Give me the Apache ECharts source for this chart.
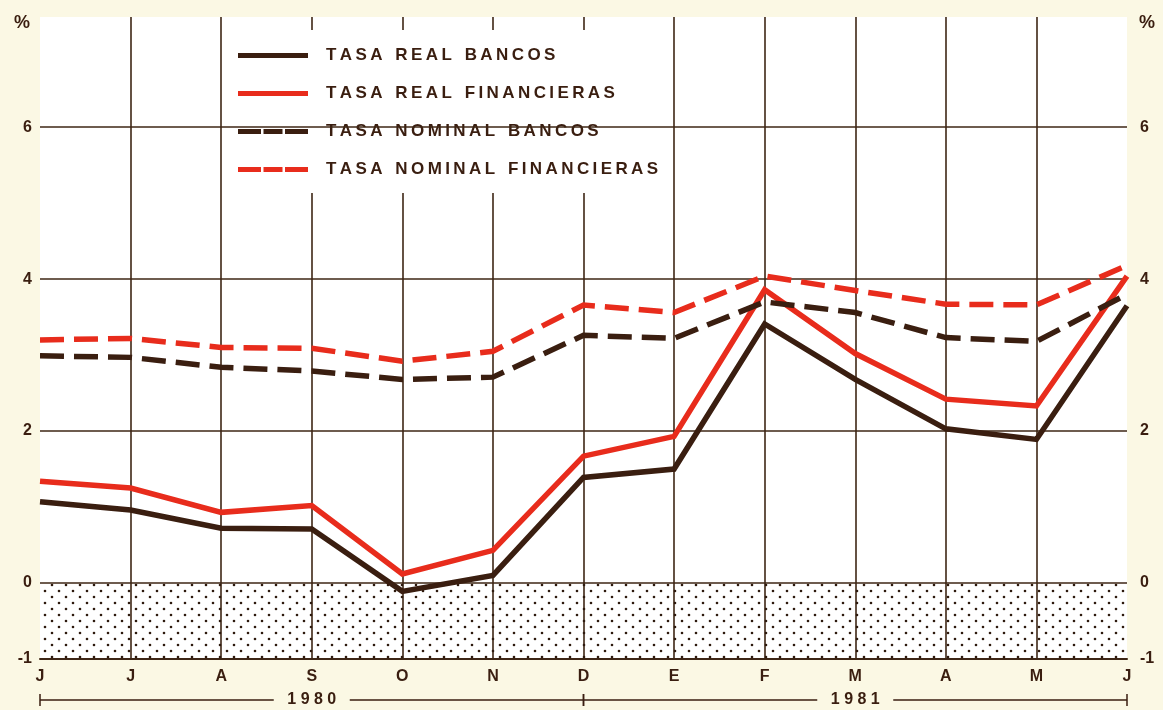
<!DOCTYPE html>
<html lang="es">
<head>
<meta charset="UTF-8">
<title>Tasas de interés</title>
<script src="https://cdn.jsdelivr.net/npm/echarts@6/dist/echarts.min.js"></script>
<style>
  html, body { margin: 0; padding: 0; background: #fbf8e4; }
  #chart { width: 1163px; height: 710px; }
</style>
</head>
<body>
<div id="chart"></div>
<script>
// meses jun-1980 .. jun-1981
var meses = ['J', 'J', 'A', 'S', 'O', 'N', 'D', 'E', 'F', 'M', 'A', 'M', 'J'];
var realBancos = [1.07, 0.96, 0.72, 0.71, -0.11, 0.10, 1.39, 1.50, 3.41, 2.68, 2.03, 1.89, 3.65];
var realFinancieras = [1.34, 1.25, 0.93, 1.02, 0.12, 0.43, 1.67, 1.93, 3.86, 3.02, 2.42, 2.33, 4.04];
var nominalBancos = [2.99, 2.97, 2.84, 2.79, 2.68, 2.71, 3.26, 3.22, 3.70, 3.56, 3.23, 3.18, 3.80];
var nominalFinancieras = [3.20, 3.22, 3.10, 3.09, 2.92, 3.05, 3.66, 3.56, 4.04, 3.85, 3.67, 3.66, 4.18];
var lineasY = [0, 2, 4, 6];
var etiquetasY = [-1, 0, 2, 4, 6];
var anios = [{ texto: '1980', desde: 0, hasta: 6 }, { texto: '1981', desde: 6, hasta: 12 }];

var marron = '#3a1e10';
var rojo = '#e82c1c';
var rejilla = '#3e2615';
var fuente = 'Liberation Sans';
var iconoTrazos = 'path://M0,0h23v5h-23z M25.5,0h19v5h-19z M47,0h23v5h-23z';

// letras separadas como en el original
function espaciar(s) {
    return s.split(' ').map(function (w) { return w.split('').join('\u2009'); }).join('  \u2009');
}

// trama de puntos para la zona negativa (fondo transparente)
var trama = document.createElement('canvas');
trama.width = 14; trama.height = 12;
var ctx = trama.getContext('2d');
ctx.fillStyle = '#2e1a0e';
[[3, 3], [10, 9]].forEach(function (p) {
    ctx.beginPath(); ctx.arc(p[0], p[1], 1.3, 0, Math.PI * 2); ctx.fill();
});

var myChart = echarts.init(document.getElementById('chart'));

function ejeY(pos) {
    return {
        type: 'value',
        position: pos,
        min: -1,
        max: 7.45,
        interval: 1,
        name: '%',
        nameLocation: 'end',
        nameGap: -15,
        nameTextStyle: {
            color: marron, fontFamily: fuente, fontWeight: 'bold', fontSize: 18,
            align: pos === 'left' ? 'right' : 'left',
            padding: pos === 'left' ? [0, 10, 0, 0] : [0, 0, 0, 12]
        },
        axisLine: { show: false },
        axisTick: { show: false },
        splitLine: { show: false },
        axisLabel: {
            margin: pos === 'left' ? 8 : 13,
            color: marron, fontFamily: fuente, fontWeight: 'bold', fontSize: 16,
            formatter: function (v) {
                return etiquetasY.indexOf(v) >= 0 ? String(v) : '';
            }
        }
    };
}

function serie(nombre, datos, color, tipo) {
    return {
        name: nombre,
        type: 'line',
        data: datos,
        symbol: 'none',
        z: 5,
        lineStyle: {
            color: color, width: 5.5,
            type: tipo === 'dashed' ? [24, 10] : 'solid',
            cap: 'butt', join: 'miter'
        },
        itemStyle: { color: color }
    };
}

myChart.setOption({
    backgroundColor: '#fbf8e4',
    animation: false,
    grid: {
        left: 40, right: 36, top: 17, bottom: 51,
        show: true, backgroundColor: '#ffffff', borderWidth: 0
    },
    legend: {
        orient: 'vertical',
        left: 223,
        top: 30,
        data: [
            { name: 'TASA REAL BANCOS', icon: 'rect' },
            { name: 'TASA REAL FINANCIERAS', icon: 'rect' },
            { name: 'TASA NOMINAL BANCOS', icon: iconoTrazos },
            { name: 'TASA NOMINAL FINANCIERAS', icon: iconoTrazos }
        ],
        backgroundColor: '#ffffff',
        padding: [17, 9, 15, 15],
        itemWidth: 70,
        itemHeight: 5,
        itemGap: 21,
        formatter: espaciar,
        textStyle: {
            color: marron, fontFamily: fuente, fontWeight: 'bold', fontSize: 17,
            padding: [0, 0, 0, 13]
        }
    },
    xAxis: {
        type: 'category',
        data: meses,
        boundaryGap: false,
        axisLine: { onZero: false, lineStyle: { color: rejilla, width: 2 } },
        axisTick: { show: false },
        axisLabel: {
            margin: 10, color: marron, fontFamily: fuente, fontWeight: 'bold', fontSize: 16
        },
        splitLine: {
            show: true,
            interval: function (i) { return i > 0 && i < meses.length - 1; },
            lineStyle: { color: rejilla, width: 1.6 }
        }
    },
    yAxis: [ejeY('left'), ejeY('right')],
    series: [
        {
            name: 'rejilla',
            type: 'line',
            data: [],
            z: 1,
            silent: true,
            markArea: {
                silent: true,
                itemStyle: { color: { image: trama, repeat: 'repeat' } },
                data: [[{ yAxis: 0 }, { yAxis: -1 }]]
            },
            markLine: {
                silent: true,
                symbol: 'none',
                label: { show: false },
                lineStyle: { color: rejilla, width: 1.6, type: 'solid' },
                data: lineasY.map(function (v) { return { yAxis: v }; })
            }
        },
        serie('TASA REAL BANCOS', realBancos, marron, 'solid'),
        serie('TASA REAL FINANCIERAS', realFinancieras, rojo, 'solid'),
        serie('TASA NOMINAL BANCOS', nominalBancos, marron, 'dashed'),
        serie('TASA NOMINAL FINANCIERAS', nominalFinancieras, rojo, 'dashed')
    ]
});

// corchetes de los años bajo el eje
var yCorchete = 700;
var graficos = [];
anios.forEach(function (a) {
    var x0 = myChart.convertToPixel({ xAxisIndex: 0 }, a.desde);
    var x1 = myChart.convertToPixel({ xAxisIndex: 0 }, a.hasta);
    var xm = (x0 + x1) / 2;
    var hueco = 38;
    graficos.push(
        { type: 'line', shape: { x1: x0, y1: yCorchete, x2: xm - hueco, y2: yCorchete }, style: { stroke: marron, lineWidth: 1.5 } },
        { type: 'line', shape: { x1: xm + hueco, y1: yCorchete, x2: x1, y2: yCorchete }, style: { stroke: marron, lineWidth: 1.5 } },
        { type: 'line', shape: { x1: x0, y1: yCorchete - 6, x2: x0, y2: yCorchete + 6 }, style: { stroke: marron, lineWidth: 1.5 } },
        { type: 'line', shape: { x1: x1, y1: yCorchete - 6, x2: x1, y2: yCorchete + 6 }, style: { stroke: marron, lineWidth: 1.5 } },
        {
            type: 'text', x: xm, y: yCorchete,
            style: {
                text: a.texto.split('').join(' '), fill: marron, font: 'bold 16px "Liberation Sans"',
                align: 'center', verticalAlign: 'middle'
            }
        }
    );
});
myChart.setOption({ graphic: graficos });
</script>
</body>
</html>
